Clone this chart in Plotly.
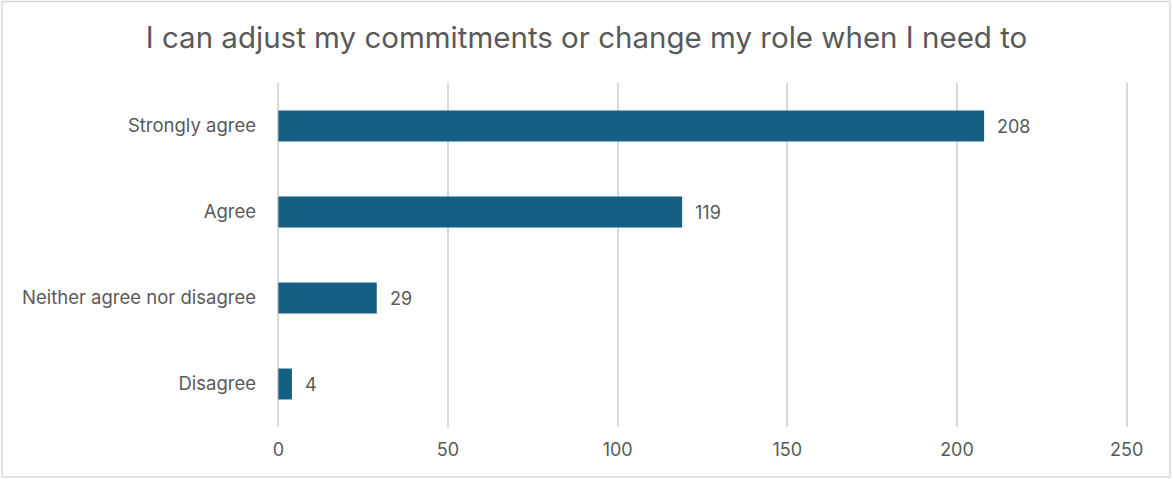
import plotly.graph_objects as go

# Survey responses
categories = ["Strongly agree", "Agree", "Neither agree nor disagree", "Disagree"]
counts = [208, 119, 29, 4]
x_ticks = [0, 50, 100, 150, 200, 250]

title_text = "I can adjust my commitments or change my role when I need to"

W, H = 1173, 479
ML, MR, MT, MB = 277, 45, 83, 52
GREY_TEXT = "#595959"
BAR = "#156082"
FONT = "Inter, Lato, sans-serif"

fig = go.Figure(
    go.Bar(
        x=counts,
        y=categories,
        orientation="h",
        marker=dict(color=BAR, line=dict(width=0)),
        width=0.36,
        hoverinfo="skip",
    )
)

# value labels just past the end of each bar
for cat, val in zip(categories, counts):
    fig.add_annotation(
        x=val, y=cat, xref="x", yref="y",
        text=str(val), showarrow=False,
        xanchor="left", xshift=11,
        font=dict(size=18, color=GREY_TEXT, family=FONT),
    )

# chart frame
pw, ph = W - ML - MR, H - MT - MB
fig.add_shape(
    type="rect", xref="paper", yref="paper",
    x0=(2 - ML) / pw, x1=(1170 - ML) / pw,
    y0=-(477 - (H - MB)) / ph, y1=1 + (MT - 1.5) / ph,
    line=dict(color="#D9D9D9", width=1.5), layer="below",
)

fig.update_layout(
    width=W, height=H,
    margin=dict(l=ML, r=MR, t=MT, b=MB),
    paper_bgcolor="white", plot_bgcolor="white",
    showlegend=False,
    title=dict(
        text=title_text, x=0.5, xref="container", xanchor="center",
        y=1 - 38 / H, yanchor="middle",
        font=dict(size=29.5, color=GREY_TEXT, family=FONT),
    ),
    xaxis=dict(
        range=[-0.4, 250.4], tickvals=x_ticks, showgrid=True,
        gridcolor="#D9D9D9", gridwidth=2, zeroline=False,
        showline=False, ticks="", ticklabelstandoff=10,
        tickfont=dict(size=18, color=GREY_TEXT, family=FONT),
        fixedrange=True,
    ),
    yaxis=dict(
        categoryorder="array", categoryarray=categories[::-1],
        showgrid=False, zeroline=False, showline=False, ticks="",
        ticklabelstandoff=20,
        tickfont=dict(size=18.5, color=GREY_TEXT, family=FONT),
        fixedrange=True,
    ),
)

fig.write_html("out.html")
